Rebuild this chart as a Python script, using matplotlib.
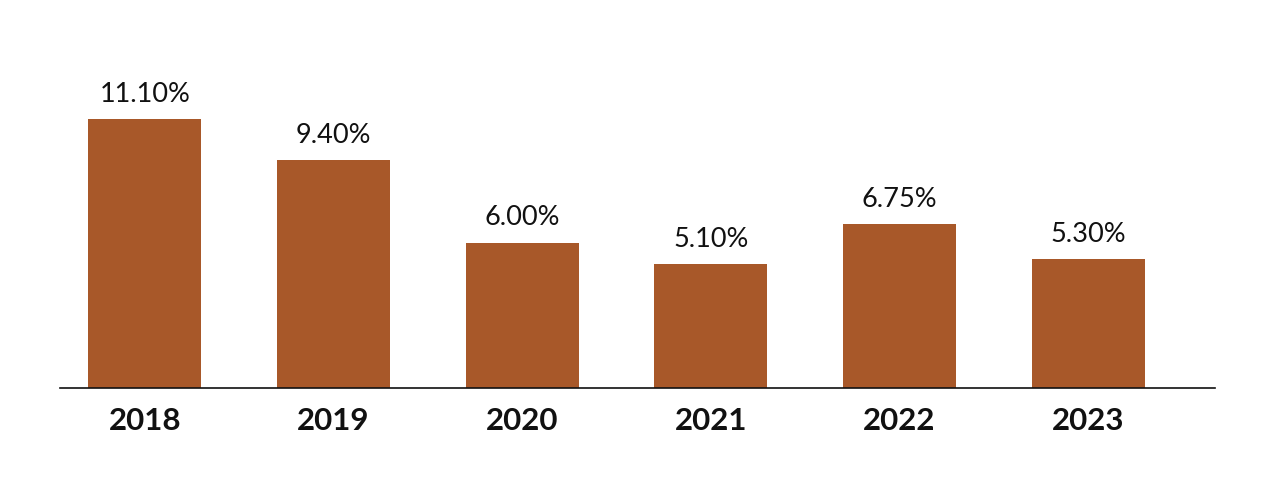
import matplotlib
matplotlib.use("Agg")
import matplotlib.pyplot as plt

years = ["2018", "2019", "2020", "2021", "2022", "2023"]
rates = [11.10, 9.40, 6.00, 5.10, 6.75, 5.30]
labels = ["11.10%", "9.40%", "6.00%", "5.10%", "6.75%", "5.30%"]

plt.rcParams['font.family'] = ['Lato', 'DejaVu Sans']

fig = plt.figure(figsize=(12.8, 5), dpi=100)
ax = fig.add_axes([60/1280, 112/500, (1215-60)/1280, 388/500])
x = list(range(len(years)))
ax.bar(x, rates, width=0.6, color="#A85829")
for xi, v, lab in zip(x, rates, labels):
    ax.text(xi, v + 0.5, lab, ha="center", va="bottom", fontsize=19.5, color="#111111")
ax.set_xlim(-0.45, 5.672)
ax.set_ylim(0, 16)
ax.set_xticks(x)
ax.set_xticklabels(years, fontsize=22.5, fontweight="bold", color="#111111")
ax.tick_params(axis="x", length=0, pad=14)
ax.set_yticks([])
for s in ["top", "right", "left"]:
    ax.spines[s].set_visible(False)
ax.spines["bottom"].set_linewidth(1.2)
ax.spines["bottom"].set_color("#111111")
fig.savefig("out.png", dpi=100)
